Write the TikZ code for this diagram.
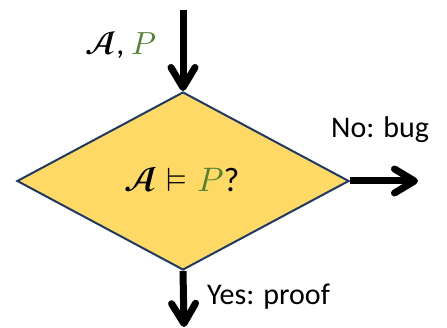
\documentclass[tikz,border=0pt]{standalone}
\usepackage{fontspec}
\usepackage{unicode-math}
\setmathfont{Latin Modern Math}
\setmainfont{Carlito}
\usetikzlibrary{shapes.geometric,arrows.meta}
\definecolor{dyellow}{HTML}{FFD966}
\definecolor{dnavy}{HTML}{1F3864}
\definecolor{pgreen}{HTML}{548235}
\tikzset{
  decision/.style={diamond, draw=dnavy, fill=dyellow, line width=2pt, inner sep=0pt,
    minimum width=332pt, minimum height=178pt, aspect=1.865},
  arr/.style={line width=7pt, -{Straight Barb[length=20pt, width=24pt, line cap=round, line join=round]}},
  lbl/.style={inner sep=0pt, font=\fontsize{30}{36}\selectfont}
}
\begin{document}
\begin{tikzpicture}[x=1pt,y=1pt]
\useasboundingbox (0,0) rectangle (447,328);
\node[decision] (d) at (183,147) {};
\node[inner sep=0pt, anchor=base, font=\fontsize{34}{40}\selectfont] (q) at (182,136) {$\symbfscr{A} \vDash \textcolor{pgreen}{P}$?};
\coordinate (top) at (183,318);
\coordinate (r) at (418,147);
\coordinate (b) at (184,1);
\draw[arr] (top) -- (d.north);
\draw[arr] (d.east) -- (r);
\draw[arr] (d.south) -- (b);
\node[inner sep=0pt, font=\fontsize{32}{38}\selectfont] (in) at (121,283) {$\symbfscr{A}$, $\textcolor{pgreen}{P}$};
\node[lbl, anchor=base west] (no) at (331,190) {No: bug};
\node[lbl, anchor=base west] (yes) at (207,23) {Yes: proof};
\end{tikzpicture}
\end{document}
